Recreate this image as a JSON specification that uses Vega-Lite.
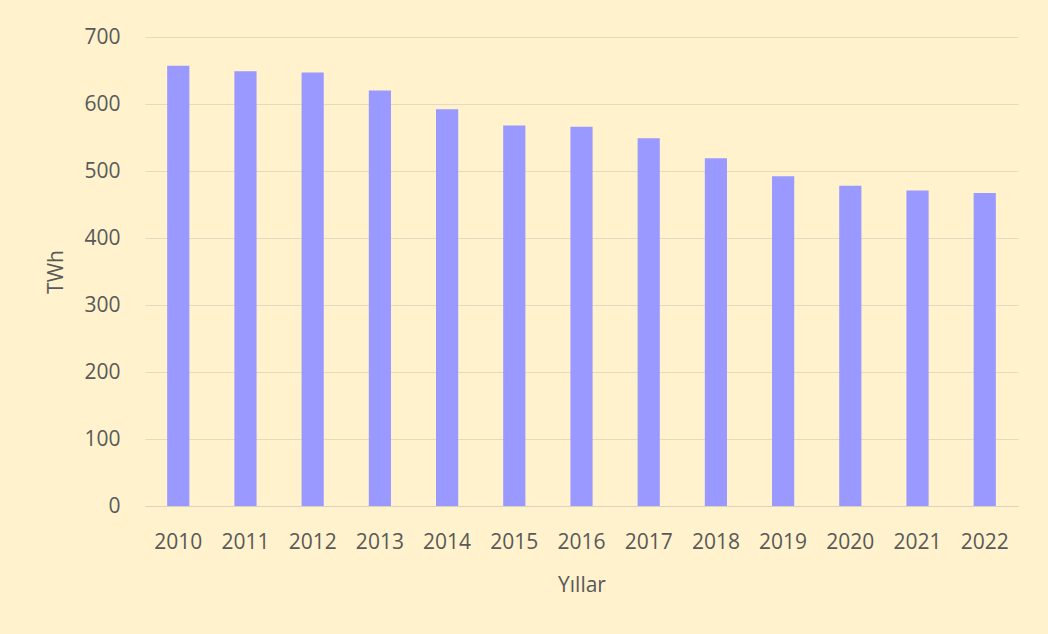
{
  "$schema": "https://vega.github.io/schema/vega-lite/v6.json",
  "autosize": {"type": "none"},
  "padding": {"left": 145, "top": 37, "right": 30, "bottom": 128},
  "width": 873,
  "height": 469,
  "background": "#FFF2CC",
  "config": {
    "view": {"stroke": null},
    "font": "Open Sans"
  },
  "data": {
    "values": [
      {"Yil": "2010", "TWh": 657},
      {"Yil": "2011", "TWh": 649},
      {"Yil": "2012", "TWh": 647},
      {"Yil": "2013", "TWh": 620},
      {"Yil": "2014", "TWh": 592},
      {"Yil": "2015", "TWh": 568},
      {"Yil": "2016", "TWh": 566},
      {"Yil": "2017", "TWh": 549},
      {"Yil": "2018", "TWh": 519},
      {"Yil": "2019", "TWh": 492},
      {"Yil": "2020", "TWh": 478},
      {"Yil": "2021", "TWh": 471},
      {"Yil": "2022", "TWh": 467}
    ]
  },
  "mark": {"type": "bar", "color": "#9999FF"},
  "encoding": {
    "x": {
      "field": "Yil",
      "type": "ordinal",
      "scale": {"paddingInner": 0.67, "paddingOuter": 0.33},
      "axis": {
        "title": "Yıllar",
        "titleFont": "Open Sans",
        "titleFontSize": 21,
        "titleFontWeight": "normal",
        "titleColor": "#595959",
        "titlePadding": 22,
        "labelAngle": 0,
        "labelFontSize": 21,
        "labelColor": "#595959",
        "labelPadding": 25,
        "ticks": false,
        "domainColor": "#D9D2BC",
        "domainWidth": 1
      }
    },
    "y": {
      "field": "TWh",
      "type": "quantitative",
      "scale": {"domain": [0, 700], "nice": false},
      "axis": {
        "title": "TWh",
        "titleFont": "Open Sans",
        "titleFontSize": 21,
        "titleFontWeight": "normal",
        "titleColor": "#595959",
        "titlePadding": 17,
        "values": [0, 100, 200, 300, 400, 500, 600, 700],
        "labelFontSize": 21,
        "labelColor": "#595959",
        "labelPadding": 25,
        "ticks": false,
        "domain": false,
        "gridColor": "#E3DAC0",
        "gridWidth": 1
      }
    }
  }
}
